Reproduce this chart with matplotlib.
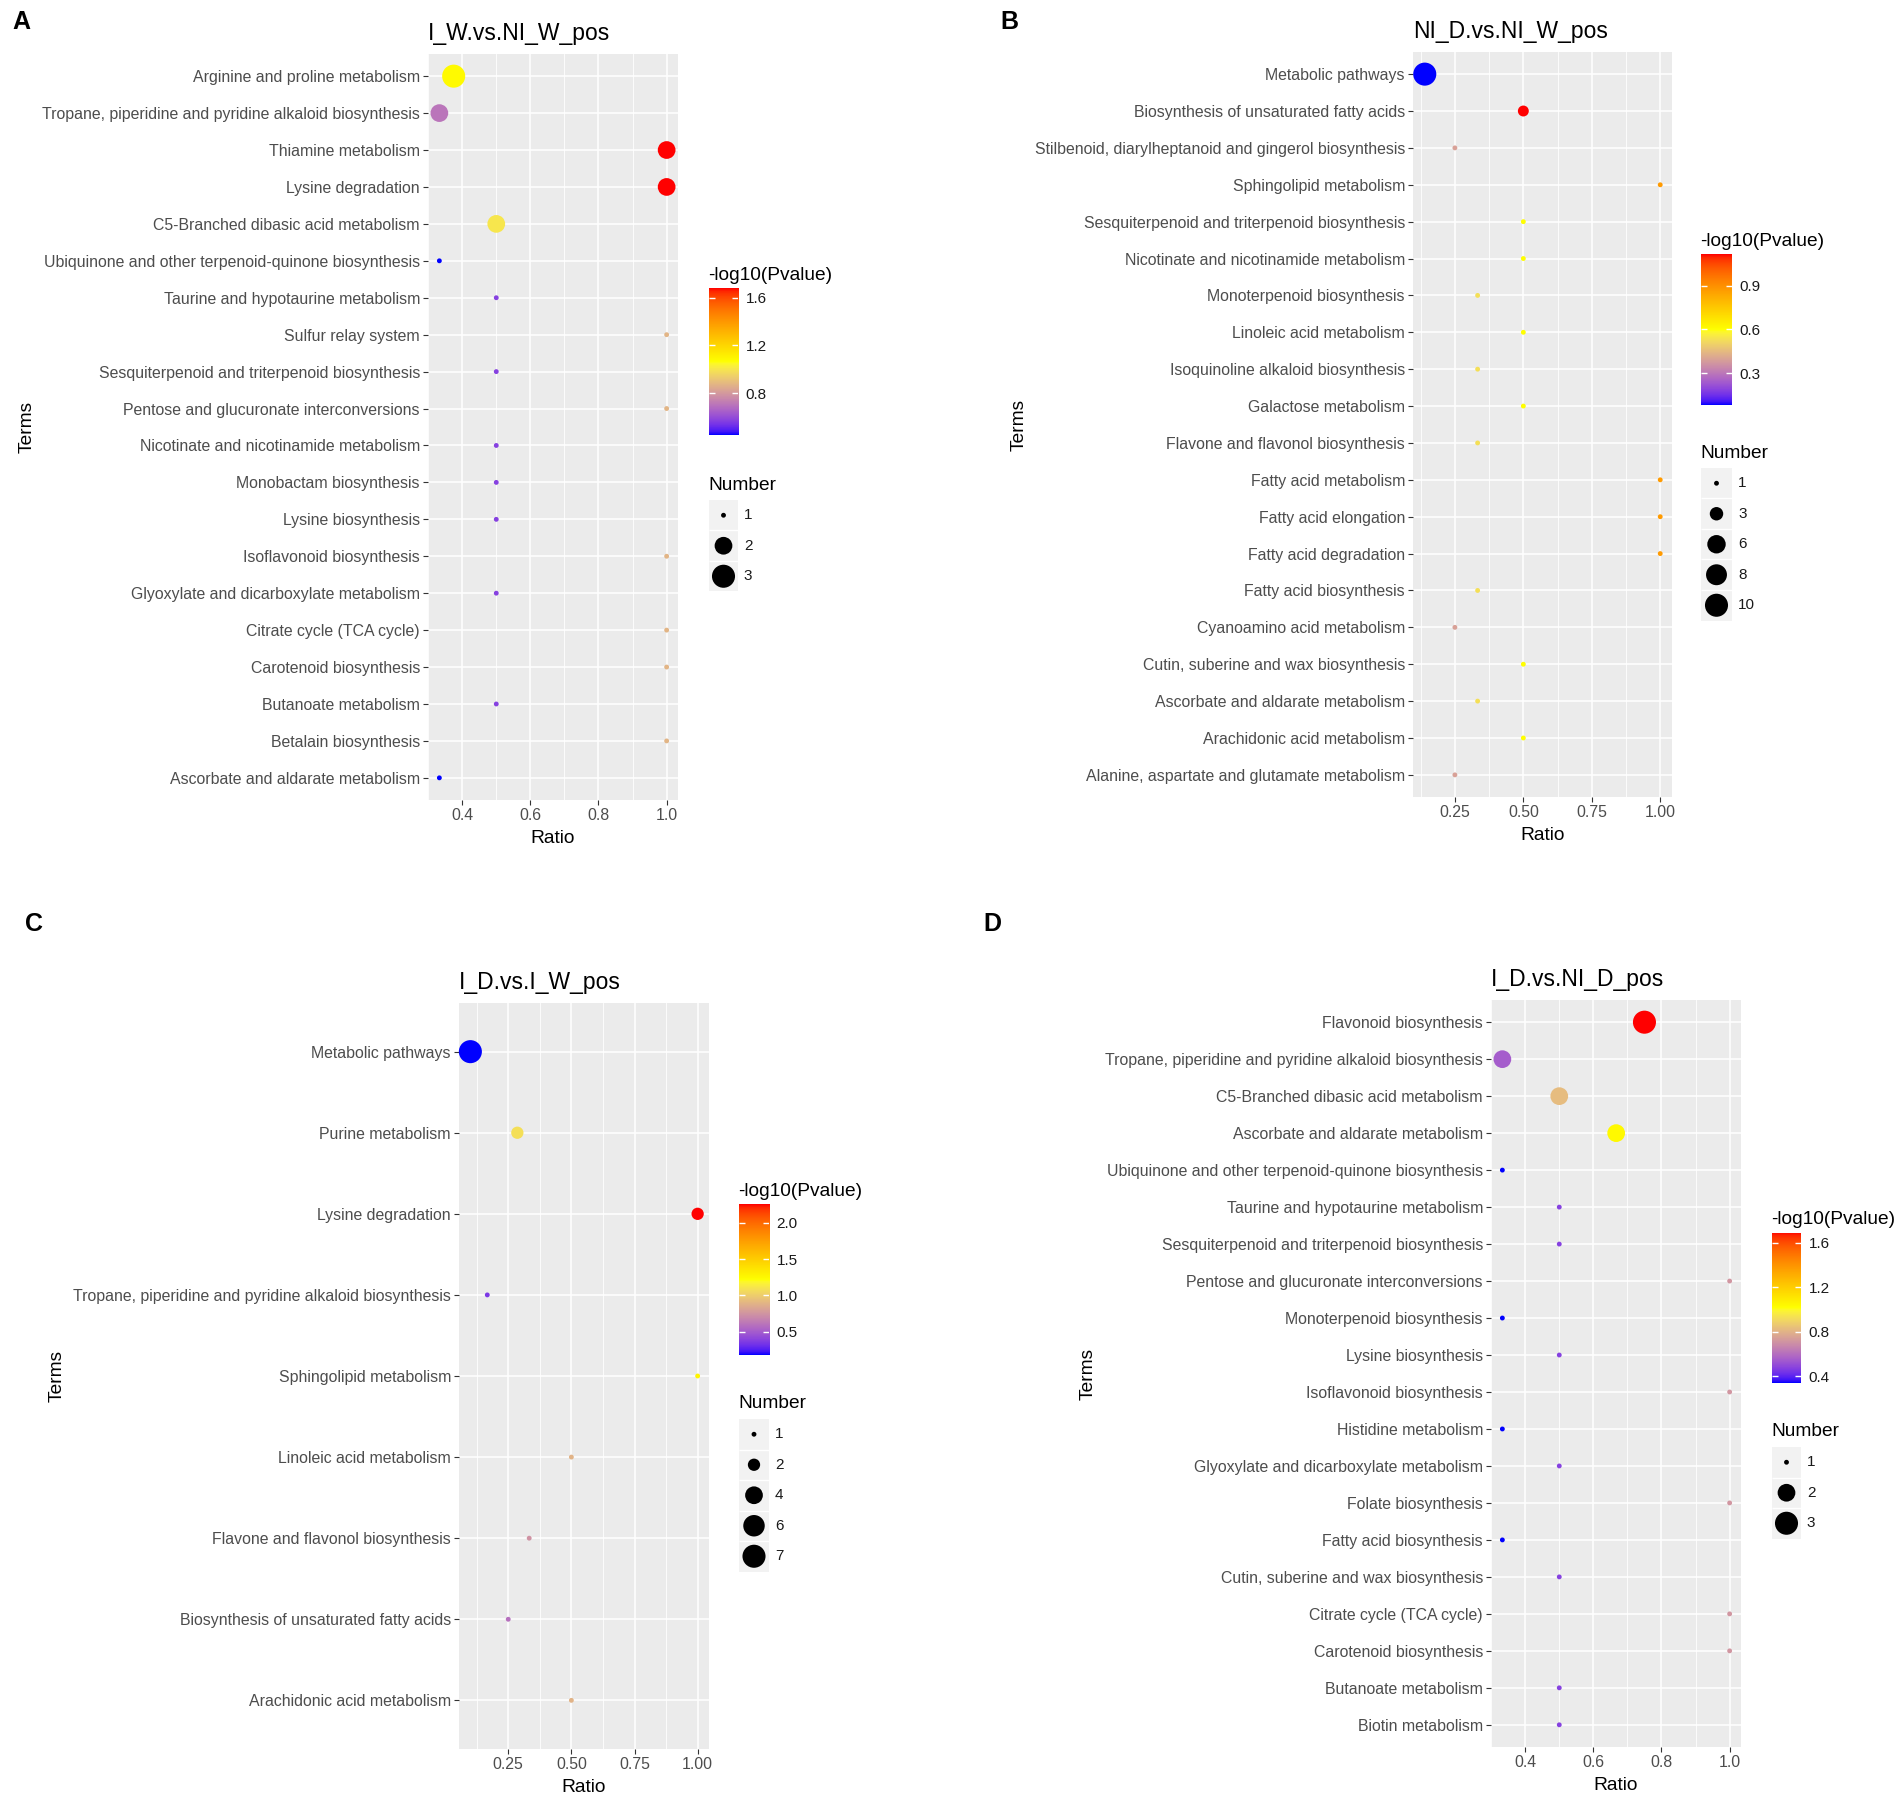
import numpy as np
import matplotlib
matplotlib.use("Agg")
import matplotlib.pyplot as plt
from matplotlib.colors import ListedColormap, Normalize

plt.rcParams['font.family'] = ['Liberation Sans', 'DejaVu Sans']

# ---------------- data ----------------
# panel A  I_W.vs.NI_W_pos
a_terms = ["Arginine and proline metabolism",
           "Tropane, piperidine and pyridine alkaloid biosynthesis",
           "Thiamine metabolism",
           "Lysine degradation",
           "C5-Branched dibasic acid metabolism",
           "Ubiquinone and other terpenoid-quinone biosynthesis",
           "Taurine and hypotaurine metabolism",
           "Sulfur relay system",
           "Sesquiterpenoid and triterpenoid biosynthesis",
           "Pentose and glucuronate interconversions",
           "Nicotinate and nicotinamide metabolism",
           "Monobactam biosynthesis",
           "Lysine biosynthesis",
           "Isoflavonoid biosynthesis",
           "Glyoxylate and dicarboxylate metabolism",
           "Citrate cycle (TCA cycle)",
           "Carotenoid biosynthesis",
           "Butanoate metabolism",
           "Betalain biosynthesis",
           "Ascorbate and aldarate metabolism"]
a_ratio = [0.375, 0.333, 1.0, 1.0, 0.5, 0.333, 0.5, 1.0, 0.5, 1.0,
           0.5, 0.5, 0.5, 1.0, 0.5, 1.0, 1.0, 0.5, 1.0, 0.333]
a_number = [3, 2, 2, 2, 2, 1, 1, 1, 1, 1, 1, 1, 1, 1, 1, 1, 1, 1, 1, 1]
a_logp = [1.08, 0.70, 1.68, 1.68, 1.00, 0.45, 0.57, 0.87, 0.57, 0.87,
          0.57, 0.57, 0.57, 0.87, 0.57, 0.87, 0.87, 0.57, 0.87, 0.45]
a_xticks = [0.4, 0.6, 0.8, 1.0]
a_xlabels = ["0.4", "0.6", "0.8", "1.0"]
a_cticks = [0.8, 1.2, 1.6]
a_sbreaks = [1, 2, 3]

# panel B  NI_D.vs.NI_W_pos
b_terms = ["Metabolic pathways",
           "Biosynthesis of unsaturated fatty acids",
           "Stilbenoid, diarylheptanoid and gingerol biosynthesis",
           "Sphingolipid metabolism",
           "Sesquiterpenoid and triterpenoid biosynthesis",
           "Nicotinate and nicotinamide metabolism",
           "Monoterpenoid biosynthesis",
           "Linoleic acid metabolism",
           "Isoquinoline alkaloid biosynthesis",
           "Galactose metabolism",
           "Flavone and flavonol biosynthesis",
           "Fatty acid metabolism",
           "Fatty acid elongation",
           "Fatty acid degradation",
           "Fatty acid biosynthesis",
           "Cyanoamino acid metabolism",
           "Cutin, suberine and wax biosynthesis",
           "Ascorbate and aldarate metabolism",
           "Arachidonic acid metabolism",
           "Alanine, aspartate and glutamate metabolism"]
b_ratio = [0.14, 0.5, 0.25, 1.0, 0.5, 0.5, 0.333, 0.5, 0.333, 0.5,
           0.333, 1.0, 1.0, 1.0, 0.333, 0.25, 0.5, 0.333, 0.5, 0.25]
b_number = [10, 2, 1, 1, 1, 1, 1, 1, 1, 1, 1, 1, 1, 1, 1, 1, 1, 1, 1, 1]
b_logp = [0.08, 1.12, 0.39, 0.88, 0.60, 0.60, 0.53, 0.60, 0.53, 0.60,
          0.53, 0.88, 0.88, 0.88, 0.53, 0.39, 0.60, 0.53, 0.60, 0.39]
b_xticks = [0.25, 0.5, 0.75, 1.0]
b_xlabels = ["0.25", "0.50", "0.75", "1.00"]
b_cticks = [0.3, 0.6, 0.9]
b_sbreaks = [1, 3, 6, 8, 10]

# panel C  I_D.vs.I_W_pos
c_terms = ["Metabolic pathways",
           "Purine metabolism",
           "Lysine degradation",
           "Tropane, piperidine and pyridine alkaloid biosynthesis",
           "Sphingolipid metabolism",
           "Linoleic acid metabolism",
           "Flavone and flavonol biosynthesis",
           "Biosynthesis of unsaturated fatty acids",
           "Arachidonic acid metabolism"]
c_ratio = [0.1, 0.286, 1.0, 0.167, 1.0, 0.5, 0.333, 0.25, 0.5]
c_number = [7, 2, 2, 1, 1, 1, 1, 1, 1]
c_logp = [0.18, 1.08, 2.26, 0.35, 1.28, 0.88, 0.74, 0.58, 0.88]
c_xticks = [0.25, 0.5, 0.75, 1.0]
c_xlabels = ["0.25", "0.50", "0.75", "1.00"]
c_cticks = [0.5, 1.0, 1.5, 2.0]
c_sbreaks = [1, 2, 4, 6, 7]

# panel D  I_D.vs.NI_D_pos
d_terms = ["Flavonoid biosynthesis",
           "Tropane, piperidine and pyridine alkaloid biosynthesis",
           "C5-Branched dibasic acid metabolism",
           "Ascorbate and aldarate metabolism",
           "Ubiquinone and other terpenoid-quinone biosynthesis",
           "Taurine and hypotaurine metabolism",
           "Sesquiterpenoid and triterpenoid biosynthesis",
           "Pentose and glucuronate interconversions",
           "Monoterpenoid biosynthesis",
           "Lysine biosynthesis",
           "Isoflavonoid biosynthesis",
           "Histidine metabolism",
           "Glyoxylate and dicarboxylate metabolism",
           "Folate biosynthesis",
           "Fatty acid biosynthesis",
           "Cutin, suberine and wax biosynthesis",
           "Citrate cycle (TCA cycle)",
           "Carotenoid biosynthesis",
           "Butanoate metabolism",
           "Biotin metabolism"]
d_ratio = [0.75, 0.333, 0.5, 0.667, 0.333, 0.5, 0.5, 1.0, 0.333, 0.5,
           1.0, 0.333, 0.5, 1.0, 0.333, 0.5, 1.0, 1.0, 0.5, 0.5]
d_number = [3, 2, 2, 2, 1, 1, 1, 1, 1, 1, 1, 1, 1, 1, 1, 1, 1, 1, 1, 1]
d_logp = [1.69, 0.55, 0.82, 1.04, 0.34, 0.47, 0.47, 0.71, 0.34, 0.47,
          0.71, 0.34, 0.47, 0.71, 0.34, 0.47, 0.71, 0.71, 0.47, 0.47]
d_xticks = [0.4, 0.6, 0.8, 1.0]
d_xlabels = ["0.4", "0.6", "0.8", "1.0"]
d_cticks = [0.4, 0.8, 1.2, 1.6]
d_sbreaks = [1, 2, 3]

# ---------------- colours: blue-yellow-red ramp in CIELAB (like ggplot) ----------------
M = np.array([[0.4124564, 0.3575761, 0.1804375],
              [0.2126729, 0.7151522, 0.0721750],
              [0.0193339, 0.1191920, 0.9503041]])
WHITE = np.array([0.95047, 1.0, 1.08883])


def to_lab(rgb):
    rgb = np.asarray(rgb, float)
    lin = np.where(rgb <= 0.04045, rgb / 12.92, ((rgb + 0.055) / 1.055) ** 2.4)
    xyz = lin @ M.T / WHITE
    f = np.where(xyz > (6 / 29) ** 3, np.cbrt(xyz), xyz / (3 * (6 / 29) ** 2) + 4 / 29)
    return np.stack([116 * f[..., 1] - 16, 500 * (f[..., 0] - f[..., 1]),
                     200 * (f[..., 1] - f[..., 2])], -1)


def from_lab(lab):
    fy = (lab[..., 0] + 16) / 116
    f = np.stack([fy + lab[..., 1] / 500, fy, fy - lab[..., 2] / 200], -1)
    xyz = np.where(f > 6 / 29, f ** 3, 3 * (6 / 29) ** 2 * (f - 4 / 29)) * WHITE
    lin = np.clip(xyz @ np.linalg.inv(M).T, 0, 1)
    rgb = np.where(lin <= 0.0031308, 12.92 * lin, 1.055 * lin ** (1 / 2.4) - 0.055)
    return np.clip(rgb, 0, 1)


anchors = to_lab(np.array([[0, 0, 1], [1, 1, 0], [1, 0, 0]], float))
tt = np.linspace(0, 1, 256)
lab = np.stack([np.interp(tt, [0, 0.5, 1], anchors[:, k]) for k in range(3)], -1)
cmap = ListedColormap(from_lab(lab))

# ---------------- figure ----------------
W, H = 1902, 1801
fig = plt.figure(figsize=(W / 100, H / 100), dpi=100)


def px_axes(x0, y0, x1, y1):
    return fig.add_axes([x0 / W, 1 - y1 / H, (x1 - x0) / W, (y1 - y0) / H])


def ftext(x, y, s, **kw):
    return fig.text(x / W, 1 - y / H, s, **kw)


def point_size(n, nmin, nmax):
    # ggplot scale_size: range 1..6 mm by area
    r = 0 if nmax == nmin else (np.asarray(n, float) - nmin) / (nmax - nmin)
    mm = 1 + 5 * np.sqrt(r)
    d_px = 1.28 * (mm * 2.845 + 0.945)
    return (d_px * 0.72) ** 2


def panel(title, letter, terms, ratio, number, logp, xticks, xlabels, cticks, sbreaks, lay):
    x0, y0, x1, y1 = lay['box']
    ax = px_axes(x0, y0, x1, y1)
    ax.set_facecolor('#EBEBEB')
    for sp in ax.spines.values():
        sp.set_visible(False)

    n = len(terms)
    ypos = np.arange(n)
    lo, hi = min(ratio), max(ratio)
    pad = 0.05 * (hi - lo)
    ax.set_xlim(lo - pad, hi + pad)
    ax.set_ylim(n - 0.4, -0.6)

    step = xticks[1] - xticks[0]
    minor = np.arange(xticks[0] - step / 2, xticks[-1] + step, step)
    minor = [m for m in minor if lo - pad <= m <= hi + pad]
    ax.set_xticks(xticks)
    ax.set_xticklabels(xlabels)
    ax.set_xticks(minor, minor=True)
    ax.set_yticks(ypos)
    ax.set_yticklabels(terms)
    ax.grid(which='major', color='white', lw=1.15)
    ax.grid(which='minor', axis='x', color='white', lw=0.6)
    ax.set_axisbelow(True)
    ax.tick_params(which='major', length=3.3, width=0.8, color='#333333',
                   labelcolor='#4D4D4D', labelsize=11.4, pad=2.5)
    ax.tick_params(which='minor', length=0)

    nmin, nmax = min(number), max(number)
    vmin, vmax = min(logp), max(logp)
    norm = Normalize(vmin=vmin, vmax=vmax)
    ax.scatter(ratio, ypos, s=point_size(number, nmin, nmax), c=logp, cmap=cmap,
               norm=norm, edgecolors='none', zorder=3, clip_on=False)

    ax.set_xlabel('Ratio', fontsize=13.8, labelpad=5)
    ftext(x0, y0 - 14, title, fontsize=16.5, ha='left', va='baseline')
    ftext(lay['letter'][0], lay['letter'][1], letter, fontsize=18, fontweight='bold',
          ha='center', va='center')
    ftext(lay['terms'], (y0 + y1) / 2, 'Terms', fontsize=13.8, rotation=90,
          ha='center', va='center')

    # colour bar
    cx0, cy0, cx1, cy1 = lay['cbar']
    cax = px_axes(cx0, cy0, cx1, cy1)
    cax.imshow(np.linspace(vmin, vmax, 200)[:, None], cmap=cmap, norm=norm,
               aspect='auto', origin='lower', extent=[0, 1, vmin, vmax])
    cax.set_xlim(0, 1)
    cax.set_ylim(vmin, vmax)
    cax.set_xticks([])
    cax.yaxis.tick_right()
    cax.set_yticks(cticks)
    cax.set_yticklabels([f'{c:.1f}' for c in cticks])
    cax.tick_params(axis='y', length=0, pad=5.5, labelsize=11, labelcolor='#1A1A1A')
    cax.hlines(cticks, 0, 0.2, color='white', lw=1)
    cax.hlines(cticks, 0.8, 1, color='white', lw=1)
    for sp in cax.spines.values():
        sp.set_visible(False)
    ftext(cx0 - 1, cy0 - 13, '-log10(Pvalue)', fontsize=13.8, ha='left', va='center')

    # size legend
    ty = lay['num_title']
    k = len(sbreaks)
    kh = 30.5
    top = ty + 15
    lax = px_axes(cx0, top, cx1, top + k * kh)
    lax.set_facecolor('#F2F2F2')
    lax.set_xlim(0, 1)
    lax.set_ylim(k - 0.5, -0.5)
    lax.set_xticks([])
    lax.set_yticks([])
    for sp in lax.spines.values():
        sp.set_visible(False)
    lax.hlines(np.arange(k - 1) + 0.5, 0, 1, color='white', lw=1)
    lax.scatter([0.5] * k, np.arange(k), s=point_size(sbreaks, nmin, nmax),
                color='black', edgecolors='none', clip_on=False)
    for i, b in enumerate(sbreaks):
        lax.text(1.2, i, str(b), transform=lax.get_yaxis_transform(), fontsize=11,
                 color='#1A1A1A', ha='left', va='center')
    ftext(cx0 - 1, ty, 'Number', fontsize=13.8, ha='left', va='center')
    return ax


panel('I_W.vs.NI_W_pos', 'A', a_terms, a_ratio, a_number, a_logp, a_xticks, a_xlabels,
      a_cticks, a_sbreaks,
      dict(box=(428, 54, 678, 800), cbar=(709, 288, 738, 435), num_title=485,
           letter=(21, 22), terms=27))
panel('NI_D.vs.NI_W_pos', 'B', b_terms, b_ratio, b_number, b_logp, b_xticks, b_xlabels,
      b_cticks, b_sbreaks,
      dict(box=(1413, 52, 1672, 797), cbar=(1701, 254, 1732, 405), num_title=453,
           letter=(1009, 22), terms=1019))
panel('I_D.vs.I_W_pos', 'C', c_terms, c_ratio, c_number, c_logp, c_xticks, c_xlabels,
      c_cticks, c_sbreaks,
      dict(box=(459, 1003, 709, 1749), cbar=(739, 1204, 769, 1355), num_title=1404,
           letter=(34, 924), terms=57))
panel('I_D.vs.NI_D_pos', 'D', d_terms, d_ratio, d_number, d_logp, d_xticks, d_xlabels,
      d_cticks, d_sbreaks,
      dict(box=(1491, 1000, 1741, 1747), cbar=(1772, 1233, 1801, 1383), num_title=1432,
           letter=(992, 924), terms=1088))

fig.savefig('out.png', dpi=100, facecolor='white')
